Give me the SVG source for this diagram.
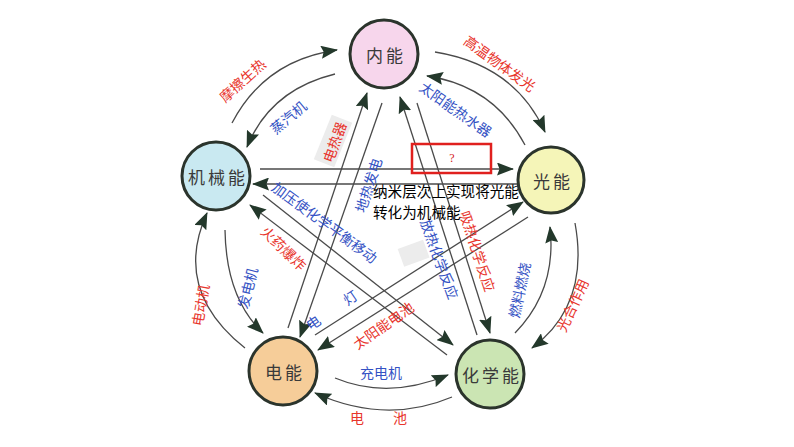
<svg xmlns="http://www.w3.org/2000/svg" width="794" height="447" viewBox="0 0 794 447">
<defs>
<marker id="ah" markerWidth="17" markerHeight="13" refX="16" refY="6.5" orient="auto" markerUnits="userSpaceOnUse">
<path d="M0,0 L17,6.5 L0,13 L2.5,6.5 z" fill="#23382b"/>
</marker>
<style>
.c{fill:none;stroke:#4a4a4a;stroke-width:1.3;marker-end:url(#ah)}
.n{stroke:#2b342c;stroke-width:3}
.nt{font-family:"Noto Sans CJK SC","Noto Sans",sans-serif;font-size:17px;fill:#3a3a3a;text-anchor:middle;dominant-baseline:central;letter-spacing:3px}
.r{font-family:"Noto Sans CJK SC","Noto Sans",sans-serif;font-size:14px;fill:#e8352c;text-anchor:middle;dominant-baseline:central}
.b{font-family:"Noto Sans CJK SC","Noto Sans",sans-serif;font-size:14px;fill:#3452c4;text-anchor:middle;dominant-baseline:central}
.k{font-family:"Noto Sans CJK SC","Noto Sans",sans-serif;font-size:14.6px;fill:#000}
.patch{fill:#ececec}
</style>
</defs>
<rect width="794" height="447" fill="#fff"/>
<g id="patches">
<rect class="patch" x="-24" y="-11" width="48" height="22" transform="translate(333,141) rotate(-68)"/>
<rect class="patch" x="400" y="244" width="27" height="19" transform="rotate(-20 413 253)"/>
</g>
<g id="connectors">
<path class="c" d="M232,123 Q265,60 337,50"/>
<path class="c" d="M335,74 Q270,90 247,147"/>
<path class="c" d="M435,52 Q515,65 545,132"/>
<path class="c" d="M525,145 Q494,86 427,76"/>
<path class="c" d="M260,169 L513,169"/>
<path class="c" d="M517,184 L253,184"/>
<path class="c" d="M263,195 L453,345"/>
<path class="c" d="M447,355 L250,205"/>
<path class="c" d="M315,335 L523,202"/>
<path class="c" d="M528,217 L318,350"/>
<path class="c" d="M288,328 L367,93"/>
<path class="c" d="M382,103 L300,337"/>
<path class="c" d="M477,335 L400,97"/>
<path class="c" d="M417,103 L490,333"/>
<path class="c" d="M245,348 Q172,290 207,213"/>
<path class="c" d="M225,230 Q226,298 263,333"/>
<path class="c" d="M515,333 Q557,290 550,227"/>
<path class="c" d="M575,223 Q590,305 532,348"/>
<path class="c" d="M335,378 Q388,400 448,375"/>
<path class="c" d="M452,397 Q386,425 315,393"/>
</g>
<g id="labels">
<text class="r" font-size="15" transform="translate(242,80) rotate(-42)">摩擦生热</text>
<text class="b" font-size="15" transform="translate(288,117) rotate(-40)">蒸汽机</text>
<text class="r" transform="translate(500,63) rotate(36)">高温物体发光</text>
<text class="b" transform="translate(456,109) rotate(35)">太阳能热水器</text>
<text class="r" transform="translate(334,142) rotate(-70)">电热器</text>
<text class="b" transform="translate(368,185) rotate(-72)">地热发电</text>
<text class="b" transform="translate(325,222) rotate(36)">加压使化学平衡移动</text>
<text class="r" transform="translate(284,248) rotate(44)">火药爆炸</text>
<text class="b" transform="translate(440,259) rotate(70)">放热化学反应</text>
<text class="r" transform="translate(478,251) rotate(72)">吸热化学反应</text>
<text class="b" transform="translate(313,322) rotate(-34)">电</text>
<text class="b" transform="translate(350,297) rotate(-34)">灯</text>
<text class="r" transform="translate(383,325) rotate(-35)">太阳能电池</text>
<text class="b" transform="translate(247,288) rotate(-76)">发电机</text>
<text class="r" transform="translate(200,305) rotate(-80)">电动机</text>
<text class="b" transform="translate(519,290) rotate(-78)">燃料燃烧</text>
<text class="r" transform="translate(572,305) rotate(-65)">光合作用</text>
<text class="b" font-size="15" x="381" y="372">充电机</text>
<text class="r" font-size="15" x="357" y="417">电</text>
<text class="r" font-size="15" x="400" y="417">池</text>
<rect x="412" y="144" width="79" height="29" fill="none" stroke="#e0201e" stroke-width="2.5"/>
<text x="452" y="158" font-family="Liberation Serif,serif" font-size="12" fill="#d42020" text-anchor="middle" dominant-baseline="central">?</text>
<text class="k" x="373" y="197">纳米层次上实现将光能</text>
<text class="k" x="373" y="218">转化为机械能</text>
</g>
<g id="node-neineng">
<circle class="n" cx="384" cy="54" r="34" fill="#f7d6ec"/>
<text class="nt" x="386" y="54">内能</text>
</g>
<g id="node-guangneng">
<circle class="n" cx="551" cy="180" r="33" fill="#f5f5b8"/>
<text class="nt" x="553" y="180">光能</text>
</g>
<g id="node-jixieneng">
<circle class="n" cx="216" cy="176" r="34" fill="#c9e9f1"/>
<text class="nt" x="218" y="176">机械能</text>
</g>
<g id="node-dianneng">
<circle class="n" cx="283" cy="371" r="34" fill="#f6cd99"/>
<text class="nt" x="285" y="371">电能</text>
</g>
<g id="node-huaxueneng">
<circle class="n" cx="490" cy="374" r="34" fill="#cbe5b3"/>
<text class="nt" x="492" y="374">化学能</text>
</g>
</svg>
